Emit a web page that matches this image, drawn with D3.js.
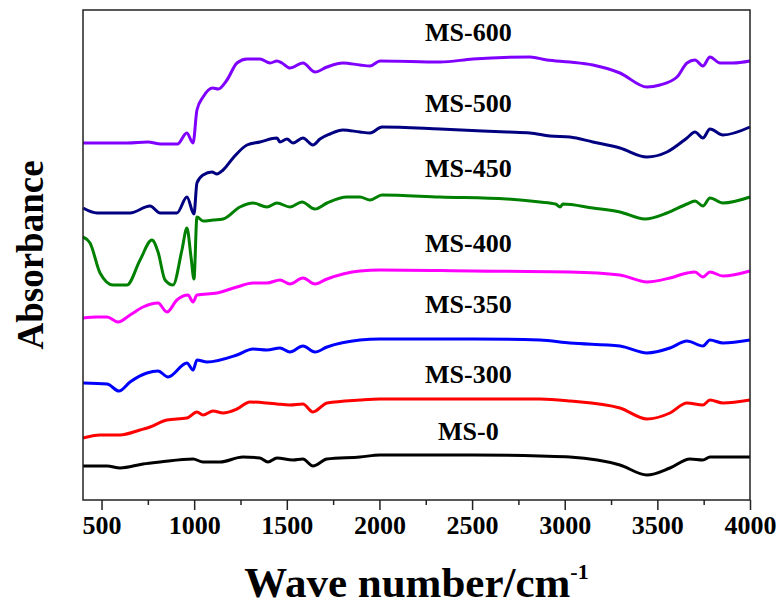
<!DOCTYPE html>
<html>
<head>
  <meta charset="utf-8">
  <script src="https://d3js.org/d3.v7.min.js"></script>
  <style>
    html, body { margin: 0; padding: 0; background: #fff; overflow: hidden; }
    svg { display: block; }
    text { font-family: "Liberation Serif", "Times New Roman", serif; font-weight: bold; fill: #000; }
  </style>
</head>
<body>
<div id="chart"></div>
<script>

// sample names, top to bottom
const names = ["MS-600", "MS-500", "MS-450", "MS-400", "MS-350", "MS-300", "MS-0"]
const colors = ["#8000ff", "#000080", "#008000", "#ff00ff", "#0000ff", "#ff0000", "#000000"]

// spectra, [wave number, absorbance (offset, a.u.)]
const ms600 = [[400,3.57],[640,3.57],[750,3.58],[820,3.56],[910,3.56],[960,3.67],[994,3.57],[1015,3.90],[1048,4.03],[1100,4.12],[1130,4.11],[1177,4.20],[1231,4.37],[1285,4.41],[1355,4.41],[1410,4.37],[1447,4.39],[1474,4.37],[1517,4.32],[1587,4.37],[1652,4.28],[1717,4.33],[1803,4.37],[1895,4.35],[1949,4.34],[2003,4.39],[2327,4.38],[2505,4.41],[2813,4.43],[2904,4.40],[3028,4.38],[3152,4.35],[3298,4.27],[3444,4.13],[3514,4.15],[3606,4.23],[3660,4.37],[3703,4.40],[3746,4.34],[3784,4.43],[3838,4.37],[3908,4.37],[4000,4.39]]
const ms500 = [[400,2.92],[476,2.87],[654,2.87],[762,2.94],[816,2.87],[907,2.87],[961,3.03],[999,2.86],[1015,3.17],[1048,3.25],[1096,3.28],[1123,3.26],[1156,3.30],[1210,3.42],[1285,3.55],[1355,3.58],[1447,3.62],[1463,3.58],[1501,3.61],[1533,3.57],[1587,3.62],[1641,3.55],[1679,3.61],[1733,3.66],[1803,3.70],[1895,3.68],[1949,3.67],[2014,3.73],[2327,3.71],[2688,3.68],[2813,3.67],[2920,3.64],[3028,3.63],[3152,3.58],[3298,3.52],[3444,3.43],[3552,3.48],[3660,3.62],[3703,3.68],[3746,3.62],[3784,3.71],[3854,3.65],[4000,3.73]]
const ms450 = [[400,2.63],[438,2.57],[492,2.27],[562,2.15],[637,2.15],[708,2.40],[772,2.60],[805,2.48],[843,2.20],[886,2.15],[934,2.50],[961,2.72],[983,2.43],[999,2.21],[1015,2.83],[1048,2.79],[1102,2.80],[1156,2.81],[1247,2.93],[1317,2.97],[1393,2.93],[1447,2.97],[1517,2.93],[1582,2.98],[1652,2.91],[1717,2.97],[1825,3.03],[1895,3.03],[1949,3.00],[2014,3.05],[2327,3.03],[2688,3.01],[2866,2.98],[2950,2.96],[2975,2.93],[2990,2.96],[3152,2.92],[3298,2.88],[3433,2.81],[3552,2.87],[3660,2.96],[3703,2.99],[3746,2.94],[3784,3.02],[3854,2.97],[4000,3.03]]
const ms400 = [[400,1.82],[476,1.83],[530,1.83],[589,1.78],[654,1.85],[724,1.93],[805,1.97],[853,1.88],[907,2.00],[967,2.05],[994,1.98],[1015,2.05],[1123,2.07],[1231,2.13],[1317,2.17],[1393,2.17],[1463,2.20],[1517,2.16],[1587,2.22],[1652,2.16],[1717,2.21],[1895,2.29],[2003,2.30],[2505,2.29],[3028,2.28],[3298,2.25],[3444,2.18],[3568,2.22],[3660,2.27],[3703,2.28],[3746,2.23],[3784,2.28],[3854,2.24],[4000,2.29]]
const ms350 = [[400,1.17],[530,1.16],[594,1.09],[654,1.18],[745,1.27],[805,1.29],[859,1.23],[961,1.37],[994,1.30],[1015,1.40],[1070,1.38],[1231,1.45],[1317,1.51],[1393,1.50],[1463,1.52],[1517,1.48],[1587,1.54],[1652,1.48],[1717,1.53],[1895,1.60],[2003,1.61],[2505,1.61],[2866,1.60],[3028,1.57],[3298,1.54],[3444,1.47],[3568,1.52],[3660,1.59],[3746,1.54],[3784,1.60],[3854,1.57],[4000,1.60]]
const ms300 = [[400,0.62],[492,0.65],[600,0.65],[708,0.70],[762,0.73],[853,0.80],[961,0.82],[1015,0.88],[1048,0.85],[1102,0.89],[1156,0.87],[1231,0.91],[1301,0.98],[1393,0.97],[1447,0.96],[1517,0.95],[1587,0.96],[1641,0.88],[1717,0.97],[1895,1.00],[2003,1.01],[2505,1.01],[2866,1.01],[3028,0.99],[3298,0.92],[3444,0.81],[3568,0.87],[3660,0.97],[3746,0.95],[3784,1.00],[3854,0.97],[4000,1.00]]
const ms0 = [[400,0.34],[530,0.34],[600,0.32],[724,0.36],[816,0.38],[994,0.41],[1048,0.38],[1139,0.38],[1263,0.43],[1355,0.42],[1398,0.38],[1447,0.42],[1533,0.40],[1587,0.41],[1641,0.34],[1717,0.41],[1895,0.43],[2003,0.45],[2505,0.45],[2866,0.44],[3028,0.43],[3298,0.35],[3444,0.25],[3568,0.32],[3676,0.41],[3746,0.40],[3784,0.43],[4000,0.43]]

const spectra = [ms600, ms500, ms450, ms400, ms350, ms300, ms0]

const xTicks = [500, 1000, 1500, 2000, 2500, 3000, 3500, 4000]
const xMinorTicks = [750, 1250, 1750, 2250, 2750, 3250, 3750]

const width = 784, height = 609
const margin = { top: 10, right: 34, bottom: 109, left: 83 }
const innerWidth = width - margin.left - margin.right,
    innerHeight = height - margin.top - margin.bottom

const xScale = d3.scaleLinear().domain([400, 4000]).range([0, innerWidth])
const yScale = d3.scaleLinear().domain([0, 4.9]).range([innerHeight, 0])

const svg = d3.select("#chart").append("svg")
    .attr("width", width)
    .attr("height", height)

const g = svg.append("g")
    .attr("transform", `translate(${margin.left},${margin.top})`)

const line = d3.line()
    .x(d => xScale(d[0]))
    .y(d => yScale(d[1]))
    .curve(d3.curveMonotoneX)

g.selectAll(".spectrum")
    .data(spectra).enter()
    .append("path")
    .attr("class", "spectrum")
    .attr("d", line)
    .attr("fill", "none")
    .attr("stroke", (d, i) => colors[i])
    .attr("stroke-width", 3)
    .attr("stroke-linejoin", "round")

// label placement (wave number, absorbance) for each sample name
const labelX = 2480
const labelY = [4.59, 3.88, 3.23, 2.48, 1.87, 1.17, 0.60]

g.selectAll(".name")
    .data(names).enter()
    .append("text")
    .attr("class", "name")
    .attr("x", xScale(labelX))
    .attr("y", (d, i) => yScale(labelY[i]))
    .attr("text-anchor", "middle")
    .style("font-size", "26px")
    .text(d => d)

// bottom axis
const xAxis = g.append("g")
    .attr("transform", `translate(0,${innerHeight})`)
    .call(d3.axisBottom(xScale).tickValues(xTicks).tickSize(10).tickPadding(6).tickFormat(d3.format("d")))

xAxis.select(".domain").remove()
xAxis.selectAll(".tick line").attr("stroke", "#222").attr("stroke-width", 1.5)
xAxis.selectAll(".tick text")
    .style("font-size", "26px")
    .style("font-family", "Liberation Serif, Times New Roman, serif")
    .style("font-weight", "bold")

g.append("g")
    .attr("transform", `translate(0,${innerHeight})`)
    .call(d3.axisBottom(xScale).tickValues(xMinorTicks).tickSize(5).tickFormat(""))
    .call(a => a.select(".domain").remove())
    .selectAll(".tick line").attr("stroke", "#222").attr("stroke-width", 1.5)

// frame
g.append("rect")
    .attr("width", innerWidth)
    .attr("height", innerHeight)
    .attr("fill", "none")
    .attr("stroke", "#222")
    .attr("stroke-width", 1.5)

// axis titles
const xTitle = svg.append("text")
    .attr("x", margin.left + innerWidth / 2)
    .attr("y", 597)
    .attr("text-anchor", "middle")
    .style("font-size", "43px")
xTitle.append("tspan").text("Wave number/cm")
xTitle.append("tspan").attr("dy", -18).style("font-size", "22px").text("-1")

svg.append("text")
    .attr("transform", `translate(43,${margin.top + innerHeight / 2}) rotate(-90)`)
    .attr("text-anchor", "middle")
    .style("font-size", "37px")
    .text("Absorbance")

</script>
</body>
</html>
